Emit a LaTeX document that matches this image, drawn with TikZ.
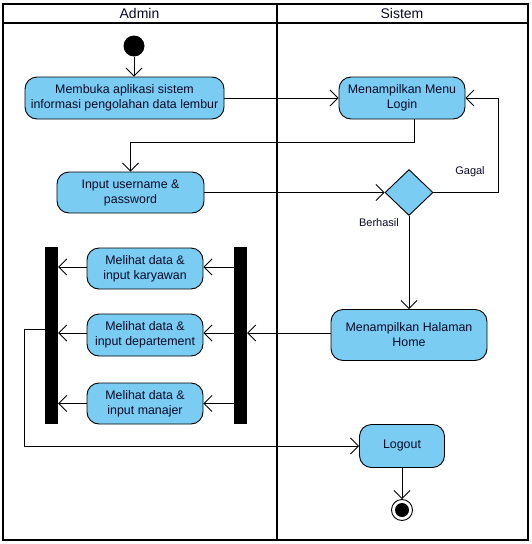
\documentclass[tikz,border=0pt]{standalone}
\usepackage{fontspec}
\setmainfont{Liberation Sans}
\usetikzlibrary{arrows.meta,shapes.geometric}
\definecolor{actblue}{RGB}{122,204,242}
\definecolor{txt}{RGB}{10,10,40}
\tikzset{
  act/.style={draw=black, line width=0.9pt, fill=actblue, rounded corners=12pt, align=center, inner sep=2pt, text=txt, font=\fontsize{12.4}{15}\selectfont},
  bar/.style={fill=black, draw=none, minimum width=13pt, minimum height=177pt, inner sep=0pt},
  arr/.style={line width=0.9pt, -{Straight Barb[length=8pt,width=16pt,line width=0.9pt]}},
  lbl/.style={font=\fontsize{11}{13}\selectfont, inner sep=0pt, text=txt},
  frame/.style={line width=1.6pt},
  head/.style={font=\fontsize{14}{16}\selectfont, text=txt},
}
\begin{document}
\begin{tikzpicture}[x=1pt,y=-1pt]
\useasboundingbox (0,0) rectangle (532,544);
% swimlanes
\draw[frame] (3,4) rectangle (528,540);
\draw[frame] (3,23) -- (528,23);
\draw[frame] (277,4) -- (277,540);
\node[head] (hA) at (139.5,13.5) {Admin};
\node[head] (hS) at (402,13.5) {Sistem};
% nodes
\node[circle, fill=black, minimum size=21pt, inner sep=0pt] (start) at (134,46) {};
\node[act, minimum width=199pt, minimum height=42pt] (membuka) at (124.5,98) {Membuka aplikasi sistem\\informasi pengolahan data lembur};
\node[act, minimum width=126pt, minimum height=42pt] (login) at (402,98) {Menampilkan Menu\\Login};
\node[act, minimum width=147pt, minimum height=41pt] (input) at (130.5,192.5) {Input username \&\\password};
\node[diamond, draw=black, line width=0.9pt, fill=actblue, minimum width=48pt, minimum height=46pt, inner sep=0pt] (dec) at (409,192.5) {};
\node[act, minimum width=156pt, minimum height=51pt] (home) at (409,335) {Menampilkan Halaman\\Home};
\node[bar] (forkR) at (240.5,335.5) {};
\node[bar] (forkL) at (51.5,335.5) {};
\node[act, minimum width=116pt, minimum height=41pt] (k1) at (145,268.5) {Melihat data \&\\input karyawan};
\node[act, minimum width=116pt, minimum height=42pt] (k2) at (145,335) {Melihat data \&\\input departement};
\node[act, minimum width=116pt, minimum height=41pt] (k3) at (145,403.5) {Melihat data \&\\input manajer};
\node[act, minimum width=85pt, minimum height=43pt] (logout) at (402,446) {Logout};
\node[circle, draw=black, line width=0.9pt, fill=white, minimum size=21pt, inner sep=0pt] (end) at (402,510) {};
\node[circle, fill=black, minimum size=14pt, inner sep=0pt] (endin) at (end) {};
% labels
\node[lbl] (gagal) at (470,172) {Gagal};
\node[lbl] (berhasil) at (379,223) {Berhasil};
% connectors
\draw[arr] (start) -- (start |- membuka.north);
\draw[arr] (membuka) -- (login);
\draw[arr] ([xshift=12pt]login.south) -- ++(0,23) -| (input.north);
\draw[arr] (input.east) -- (dec.west);
\draw[arr] (dec.east) -- ++(65,0) |- (login.east);
\draw[arr] (dec.south) -- (home.north -| dec.south);
\draw[arr] ([yshift=2pt]home.west) -- ([yshift=2pt]forkR.east |- home.west);
\draw[arr] ([yshift=1.5pt]forkR.west |- k1) -- ([yshift=1.5pt]k1.east);
\draw[arr] ([yshift=2pt]forkR.west |- k2) -- ([yshift=2pt]k2.east);
\draw[arr] (forkR.west |- k3) -- (k3.east);
\draw[arr] ([yshift=1.5pt]k1.west) -- ([yshift=1.5pt]forkL.east |- k1);
\draw[arr] ([yshift=2pt]k2.west) -- ([yshift=2pt]forkL.east |- k2);
\draw[arr] (k3.west) -- (forkL.east |- k3);
\draw[arr] ([yshift=6.5pt]forkL.west) -- ++(-20,0) |- (logout.west);
\draw[arr] (logout.south) -- (end.north);
\end{tikzpicture}
\end{document}
